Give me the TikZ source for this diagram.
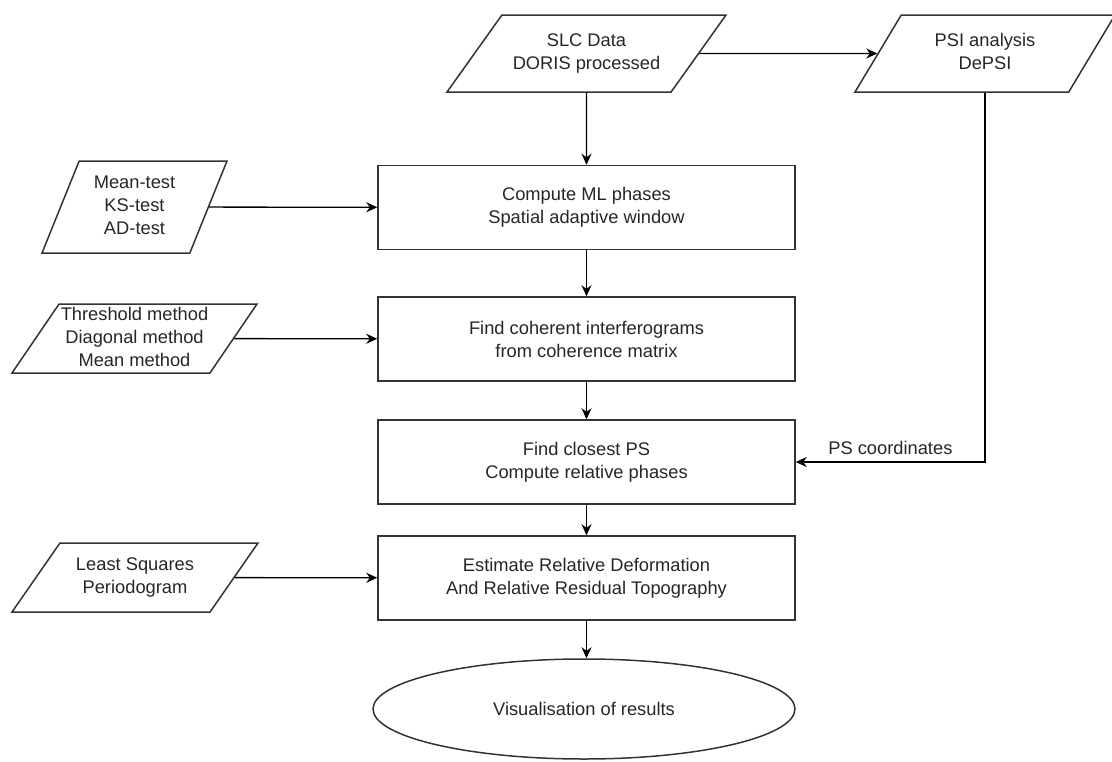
\documentclass[tikz,border=0pt]{standalone}
\usepackage{fontspec}
\setmainfont{Liberation Sans}
\usetikzlibrary{shapes.geometric,arrows.meta}
\newcommand{\iobox}[2]{\vbox to #1{\vfil\hbox{\begin{tabular}{@{}c@{}}#2\end{tabular}}\vfil}}
\tikzset{
    process/.style={rectangle,draw=black!80,line width=1.5pt,minimum width=417pt,minimum height=84pt,inner sep=0,align=center,text=black!85,font=\fontsize{18.3}{23}\selectfont},
    io/.style={trapezium,draw=black!80,line width=1.5pt,trapezium stretches body,inner sep=0,text=black!85,font=\fontsize{18.3}{23}\selectfont},
    result/.style={ellipse,draw=black!80,line width=1.5pt,minimum width=422pt,minimum height=100pt,inner sep=0,text=black!85,font=\fontsize{18.3}{23}\selectfont},
    flow/.style={-{Stealth[length=11pt,width=10pt]},line width=1.3pt,draw=black}
}
\begin{document}
\begin{tikzpicture}[x=1pt,y=-1pt]
    \useasboundingbox (0,0) rectangle (1112,761);
    \node[io,trapezium left angle=54.5,trapezium right angle=125.5,minimum width=279pt] (slc) at (586.5,53.5) {\iobox{77pt}{SLC Data\\DORIS processed}};
    \node[io,trapezium left angle=59,trapezium right angle=121,minimum width=260pt] (psi) at (985,53.5) {\iobox{77pt}{PSI analysis\\DePSI}};
    \node[io,trapezium left angle=68,trapezium right angle=112,minimum width=185pt] (tests) at (134.5,207) {\iobox{92pt}{Mean-test\\KS-test\\AD-test}};
    \node[io,trapezium left angle=55.7,trapezium right angle=124.3,minimum width=245pt] (methods) at (134.5,338.5) {\iobox{69pt}{Threshold method\\Diagonal method\\Mean method}};
    \node[io,trapezium left angle=55.2,trapezium right angle=124.8,minimum width=246pt] (lsq) at (135,577.5) {\iobox{69pt}{Least Squares\\Periodogram}};

    \node[process] (ml) at (586.5,207.5) {Compute ML phases\\Spatial adaptive window};
    \node[process] (coh) at (586.5,339) {Find coherent interferograms\\from coherence matrix};
    \node[process] (closest) at (586.5,462) {Find closest PS\\Compute relative phases};
    \node[process] (est) at (586.5,578) {Estimate Relative Deformation\\And Relative Residual Topography};
    \node[result] (vis) at (584,709) {Visualisation of results};

    \draw[flow] (slc) -- (psi);
    \draw[flow] (slc) -- (ml);
    \draw[flow] (tests) -- (ml);
    \draw[flow] (ml) -- (coh);
    \draw[flow] (methods) -- (coh);
    \draw[flow] (coh) -- (closest);
    \draw[flow] (psi.south) |- (closest.east)
        node[pos=0.75,above=3pt,text=black!85,font=\fontsize{18.3}{23}\selectfont] {PS coordinates};
    \draw[flow] (closest) -- (est);
    \draw[flow] (lsq) -- (est);
    \draw[flow] (est.south) -- (est.south |- vis.north);
\end{tikzpicture}
\end{document}
